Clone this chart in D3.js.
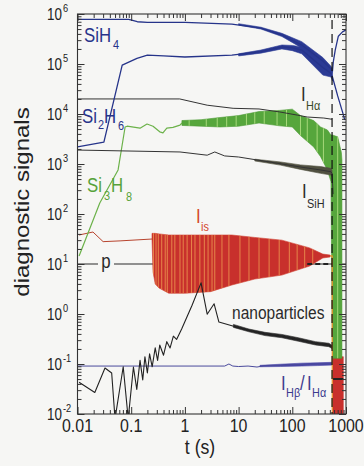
<!DOCTYPE html>
<html><head><meta charset="utf-8">
<script src="https://cdn.jsdelivr.net/npm/d3@7"></script>
<style>
html,body{margin:0;padding:0;background:#f6f6f4;}
svg{display:block;}
text{font-family:"Liberation Sans",Arial,Helvetica,sans-serif;}
</style></head><body>
<svg id="chart" width="364" height="466"></svg>
<script>
// ---------- axis ticks ----------
const xTickValues = [0.01, 0.1, 1, 10, 100, 1000];
const xTickLabels = ["0.01", "0.1", "1", "10", "100", "1000"];
const yTickExponents = [6, 5, 4, 3, 2, 1, 0, -1, -2];

// plasma switched off (s)
const plasmaOff = 550;

// ---------- SiH4 ----------
const sih4T = [0.01, 0.09, 0.13, 0.2, 1, 7.5, 26, 64, 150, 370, 525, 560, 580, 630, 720, 860, 1000];
const sih4V = [7.8e5, 7.8e5, 7.0e5, 6.8e5, 6.8e5, 6.3e5, 5.2e5, 3.8e5, 2.4e5, 1.15e5, 8.0e4, 7.2e4, 1.1e5, 1.9e5, 3.6e5, 4.4e5, 4.8e5];
const sih4BandT = [10, 26, 64, 150, 370, 525, 560];
const sih4Lo = [6.0e5, 5.0e5, 3.55e5, 2.1e5, 1.0e5, 7.0e4, 6.5e4];
const sih4Hi = [6.4e5, 5.45e5, 4.1e5, 2.8e5, 1.35e5, 9.0e4, 8.0e4];

// ---------- Si2H6 ----------
const si2h6T = [0.01, 0.031, 0.068, 0.128, 0.2, 0.4, 1, 7.5, 26, 64, 100, 150, 370, 525, 560, 700, 860, 950];
const si2h6V = [2.2e3, 2.75e3, 9.5e4, 1.3e5, 1.5e5, 1.45e5, 1.38e5, 1.5e5, 1.77e5, 2.2e5, 2.1e5, 1.9e5, 8.5e4, 6.5e4, 5.5e4, 2.3e4, 1.1e4, 7.6e3];
const si2h6BandT = [10, 26, 64, 100, 150, 370, 525, 560];
const si2h6Lo = [1.45e5, 1.65e5, 2.0e5, 1.85e5, 1.6e5, 6.0e4, 5.5e4, 4.6e4];
const si2h6Hi = [1.6e5, 1.9e5, 2.4e5, 2.35e5, 2.2e5, 1.1e5, 8.0e4, 6.5e4];

// ---------- Si3H8 ----------
const si3h8T = [0.0107, 0.026, 0.057, 0.077, 0.084, 0.146, 0.197, 0.255, 0.34, 0.39, 0.46, 0.6, 0.81, 0.88];
const si3h8V = [14.5, 166, 760, 5.5e3, 5.7e3, 5.2e3, 6.3e3, 5.7e3, 4.4e3, 4.2e3, 5.2e3, 5.4e3, 6.0e3, 6.6e3];
const si3h8BandT = [0.88, 2, 4.5, 10, 24, 58, 100, 142, 250, 336, 450, 525, 560, 700, 820, 840];
const si3h8Lo = [5.9e3, 5.7e3, 5.5e3, 5.7e3, 6.6e3, 5.8e3, 5.5e3, 3.7e3, 2.2e3, 1.4e3, 7.6e2, 4.4e2, 0.13, 0.13, 0.13, 0.13];
const si3h8Hi = [7.4e3, 7.7e3, 8.5e3, 9.3e3, 1.12e4, 1.18e4, 1.25e4, 9.3e3, 7.4e3, 5.5e3, 4.8e3, 3.8e3, 3.8e3, 3.5e3, 1.7e3, 1.2e3];
const si3h8Streaks = [1.2, 2.5, 4, 6, 9, 14, 20, 30, 52, 78, 142, 190, 290, 380, 700];

// ---------- I_Halpha ----------
const ihaT = [0.01, 0.8, 2.6, 7.9, 24, 58, 124, 190, 386, 525, 550];
const ihaV = [2.0e4, 2.0e4, 1.5e4, 1.3e4, 1.26e4, 1.1e4, 9.5e3, 8.7e3, 8.3e3, 7.9e3, 7.9e3];

// ---------- I_SiH ----------
const isihT = [0.01, 0.81, 2.6, 3.6, 5.5, 10, 37, 142, 336, 525, 550, 575];
const isihV = [1.9e3, 1.74e3, 1.5e3, 1.74e3, 1.45e3, 1.38e3, 1.1e3, 8.7e2, 7.6e2, 7.0e2, 6.5e2, 2.5e2];
const isihBandT = [20, 60, 142, 336, 525, 550];
const isihLo = [1.15e3, 0.95e3, 7.8e2, 6.5e2, 6.0e2, 5.6e2];
const isihHi = [1.25e3, 1.1e3, 9.6e2, 8.9e2, 8.2e2, 7.5e2];

// ---------- I_is ----------
const iisT = [0.0107, 0.0194, 0.03, 0.062, 0.244];
const iisV = [38, 43.6, 28, 29, 31.6];
const iisBandT = [0.244, 0.255, 0.28, 0.33, 0.5, 1, 3, 7.5, 20, 64, 210, 370, 505];
const iisHi = [41, 41, 41, 40, 38, 38, 38, 38, 34, 30, 21, 15.8, 15.1];
const iisLo = [31, 7, 4, 3.3, 2.6, 2.6, 2.8, 3.8, 5.0, 6.0, 9.1, 13.2, 13.8];
const iisSpikes = [0.26, 0.29, 0.32, 0.37, 0.43, 0.47, 0.57, 0.65, 0.81, 0.93, 1.1, 1.33, 1.54, 1.9, 2.3, 2.7, 3.2, 3.6, 4.9, 6.6, 10.6, 15.6, 24, 37, 57, 88, 123, 170, 240];
const iisTailT = [505, 555, 556];
const iisTailV = [14.5, 14.5, 0.001];
const iisAfterT = [570, 890];
const iisAfterLo = [0.001, 0.001];
const iisAfterHi = [0.14, 0.14];

// ---------- pressure ----------
const pT = [0.01, 1000];
const pV = [10, 10];

// ---------- nanoparticles ----------
const nanoT = [0.0107, 0.021, 0.0325, 0.0433, 0.05, 0.071, 0.088, 0.11, 0.127, 0.146, 0.164, 0.18, 0.2, 0.22, 0.246, 0.28, 0.31, 0.34, 0.4, 0.46, 0.53, 0.61, 0.7, 0.87, 1.36, 2.0, 2.6, 3.5, 4.3, 7.5, 15.6, 31, 64, 130, 270, 480, 550];
const nanoV = [0.043, 0.027, 0.083, 0.066, 0.008, 0.088, 0.008, 0.087, 0.031, 0.118, 0.048, 0.14, 0.066, 0.16, 0.088, 0.21, 0.118, 0.24, 0.15, 0.28, 0.21, 0.36, 0.31, 0.5, 1.5, 4.2, 0.99, 1.6, 0.69, 0.58, 0.47, 0.4, 0.36, 0.31, 0.26, 0.24, 0.22];
const nanoBandT = [8, 15.6, 31, 64, 130, 270, 480, 550];
const nanoLo = [0.54, 0.44, 0.37, 0.335, 0.285, 0.24, 0.222, 0.204];
const nanoHi = [0.62, 0.5, 0.43, 0.39, 0.335, 0.28, 0.26, 0.236];
const nanoAfterT = [575, 890];
const nanoAfterV = [0.05, 0.05];

// ---------- I_Hbeta / I_Halpha ----------
const hbhaT = [0.01, 5.5, 6.6, 7.8, 10, 15, 22, 30, 60, 100, 200, 550];
const hbhaV = [0.091, 0.091, 0.1, 0.091, 0.089, 0.091, 0.087, 0.092, 0.094, 0.097, 0.099, 0.102];
const hbhaBandT = [25, 60, 150, 300, 550];
const hbhaLo = [0.088, 0.089, 0.091, 0.093, 0.095];
const hbhaHi = [0.094, 0.099, 0.104, 0.106, 0.108];

// ---------- layout ----------
const X0 = 77.5, X1 = 346, Y0 = 14, Y1 = 414;
const SX = 0.84; // horizontal squeeze of the lettering
const BG = "#f6f6f4";

const svg = d3.select("#chart");
svg.append("rect").attr("width", 364).attr("height", 466).attr("fill", BG);

const x = d3.scaleLog().domain([0.01, 1000]).range([X0, X1]);
const y = d3.scaleLog().domain([0.01, 1e6]).range([Y1, Y0]);

const defs = svg.append("defs");
defs.append("clipPath").attr("id", "plotClip")
  .append("rect").attr("x", X0).attr("y", Y0).attr("width", X1 - X0).attr("height", Y1 - Y0);

const plot = svg.append("g").attr("clip-path", "url(#plotClip)");

const pts = (ts, vs) => ts.map((t, i) => ({ t, v: vs[i] }));
const band = (ts, lo, hi) => ts.map((t, i) => ({ t, lo: lo[i], hi: hi[i] }));
const line = d3.line().x(d => x(d.t)).y(d => y(d.v));
const area = d3.area().x(d => x(d.t)).y0(d => y(d.lo)).y1(d => y(d.hi));

function drawLine(g, data, color, w, dash) {
  const p = g.append("path").datum(data).attr("d", line)
    .attr("fill", "none").attr("stroke", color).attr("stroke-width", w)
    .attr("stroke-linejoin", "round");
  if (dash) p.attr("stroke-dasharray", dash);
  return p;
}
function drawBand(g, data, color, stroke) {
  return g.append("path").datum(data).attr("d", area)
    .attr("fill", color).attr("stroke", stroke || color).attr("stroke-width", 0.6);
}

// pressure (under the ion-current band)
drawLine(plot, pts(pT, pV), "#2a2a2a", 1.1);

// I_Hbeta / I_Halpha
drawBand(plot, band(hbhaBandT, hbhaLo, hbhaHi), "#4a46a6");
drawLine(plot, pts(hbhaT, hbhaV), "#4a4a9c", 1);

// ion saturation current
const isBand = band(iisBandT, iisLo, iisHi);
defs.append("clipPath").attr("id", "isClip").append("path").attr("d", area(isBand));
drawBand(plot, isBand, "#c8302c", "#d04030");
plot.append("g").attr("clip-path", "url(#isClip)")
  .selectAll("line").data(iisSpikes).join("line")
  .attr("x1", d => x(d)).attr("x2", d => x(d))
  .attr("y1", Y0).attr("y2", Y1)
  .attr("stroke", "#ee9c52").attr("stroke-width", 0.8);
drawLine(plot, pts(iisT, iisV), "#b8442e", 1);
drawBand(plot, band(iisAfterT, iisAfterLo, iisAfterHi), "#c8302c");

// nanoparticles
drawBand(plot, band(nanoBandT, nanoLo, nanoHi), "#2a2a2a");
drawLine(plot, pts(nanoT, nanoV), "#222", 1.1);
drawLine(plot, pts(nanoAfterT, nanoAfterV), "#222", 2);

// Si3H8
const s3Band = band(si3h8BandT, si3h8Lo, si3h8Hi);
defs.append("clipPath").attr("id", "s3Clip").append("path").attr("d", area(s3Band));
drawBand(plot, s3Band, "#56a63c", "#4e9a36");
plot.append("g").attr("clip-path", "url(#s3Clip)")
  .selectAll("line").data(si3h8Streaks).join("line")
  .attr("x1", d => x(d)).attr("x2", d => x(d))
  .attr("y1", Y0).attr("y2", Y1)
  .attr("stroke", "#a6d87a").attr("stroke-width", 1);
drawLine(plot, pts(si3h8T, si3h8V), "#6cb24a", 1.2);

// I_SiH
drawBand(plot, band(isihBandT, isihLo, isihHi), "#505040");
drawLine(plot, pts(isihT, isihV), "#333", 1);

// I_Halpha
drawLine(plot, pts(ihaT, ihaV), "#333", 1);

// SiH4 and Si2H6
drawBand(plot, band(sih4BandT, sih4Lo, sih4Hi), "#2b3a94");
drawBand(plot, band(si2h6BandT, si2h6Lo, si2h6Hi), "#2b3a94");
drawLine(plot, pts(sih4T, sih4V), "#26348a", 1.3);
drawLine(plot, pts(si2h6T, si2h6V), "#26348a", 1.3);

// pressure trace showing through the band at late times
drawLine(plot, pts([190, plasmaOff], [10, 10]), "#222", 2, "5,3");

// drop of the ion current after switch-off
drawLine(plot, pts(iisTailT, iisTailV), "#e8902a", 1.2);

// plasma switch-off marker
plot.append("line")
  .attr("x1", x(plasmaOff)).attr("x2", x(plasmaOff))
  .attr("y1", Y0 + 6).attr("y2", Y1)
  .attr("stroke", "#111").attr("stroke-width", 1.2).attr("stroke-dasharray", "9,5");

// ---------- frame & ticks ----------
const allX = x.ticks();
const minorX = allX.filter(v => !xTickValues.some(m => Math.abs(m - v) / m < 1e-6));
const allY = y.ticks();
const majorY = yTickExponents.map(e => Math.pow(10, e));
const minorY = allY.filter(v => !majorY.some(m => Math.abs(m - v) / m < 1e-6));

function axisGroup(axis, tr) {
  const g = svg.append("g").attr("transform", tr).call(axis);
  g.select(".domain").remove();
  g.selectAll("line").attr("stroke", "#333").attr("stroke-width", 1);
  g.selectAll("text").remove();
  return g;
}
axisGroup(d3.axisBottom(x).tickValues(xTickValues).tickSize(-7), `translate(0,${Y1})`);
axisGroup(d3.axisBottom(x).tickValues(minorX).tickSize(-4), `translate(0,${Y1})`);
axisGroup(d3.axisTop(x).tickValues(xTickValues).tickSize(-7), `translate(0,${Y0})`);
axisGroup(d3.axisTop(x).tickValues(minorX).tickSize(-4), `translate(0,${Y0})`);
axisGroup(d3.axisLeft(y).tickValues(majorY).tickSize(-7), `translate(${X0},0)`);
axisGroup(d3.axisLeft(y).tickValues(minorY).tickSize(-4), `translate(${X0},0)`);
axisGroup(d3.axisRight(y).tickValues(majorY).tickSize(-7), `translate(${X1},0)`);
axisGroup(d3.axisRight(y).tickValues(minorY).tickSize(-4), `translate(${X1},0)`);

svg.append("rect").attr("x", X0).attr("y", Y0).attr("width", X1 - X0).attr("height", Y1 - Y0)
  .attr("fill", "none").attr("stroke", "#333").attr("stroke-width", 1.1);

// ---------- lettering ----------
function txt(xp, yb, s, size, color, anchor) {
  return svg.append("text")
    .attr("transform", `translate(${xp},${yb}) scale(${SX},1)`)
    .attr("font-size", size).attr("fill", color)
    .attr("text-anchor", anchor || "start").text(s);
}

xTickValues.forEach((v, i) => txt(x(v), 432, xTickLabels[i], 19, "#222", "middle"));
yTickExponents.forEach(e => {
  const yy = y(Math.pow(10, e));
  txt(62, yy + 6, "10", 16, "#222", "end");
  txt(63, yy - 2, String(e), 11, "#222", "start");
});

txt(200, 454, "t (s)", 21, "#222", "middle");
svg.append("text")
  .attr("transform", `translate(29,202) rotate(-90) scale(1,${SX})`)
  .attr("font-size", 24).attr("fill", "#222").attr("text-anchor", "middle")
  .text("diagnostic signals");

// series labels
const blue = "#27338a", green = "#56a23a", red = "#d4452a", dark = "#2a2a2a", violet = "#3d3b8e";
txt(84, 42, "SiH", 20, blue); txt(113, 49, "4", 13, blue);
txt(82, 123, "Si", 20, blue); txt(98, 129, "2", 13, blue);
txt(104, 123, "H", 20, blue); txt(118, 130, "6", 13, blue);
txt(87, 192, "Si", 20, green); txt(104, 200, "3", 13, green);
txt(111, 192, "H", 20, green); txt(126, 201, "8", 13, green);

txt(301, 101, "I", 20, dark); txt(306, 110, "Hα", 13, "#3a4a2a");
txt(302, 198, "I", 20, dark); txt(307, 208, "SiH", 13, dark);
txt(196, 223, "I", 20, red); txt(201, 231, "is", 13, red);

svg.append("rect").attr("x", 98).attr("y", 258).attr("width", 16).attr("height", 12).attr("fill", BG);
txt(106, 268, "p", 20, dark, "middle");

txt(232, 319, "nanoparticles", 18.5, dark);

txt(281, 390, "I", 20, violet); txt(286, 397, "Hβ", 13, violet);
txt(300, 390, "/", 20, violet);
txt(307, 390, "I", 20, violet); txt(312, 397, "Hα", 13, violet);
</script>
</body></html>
